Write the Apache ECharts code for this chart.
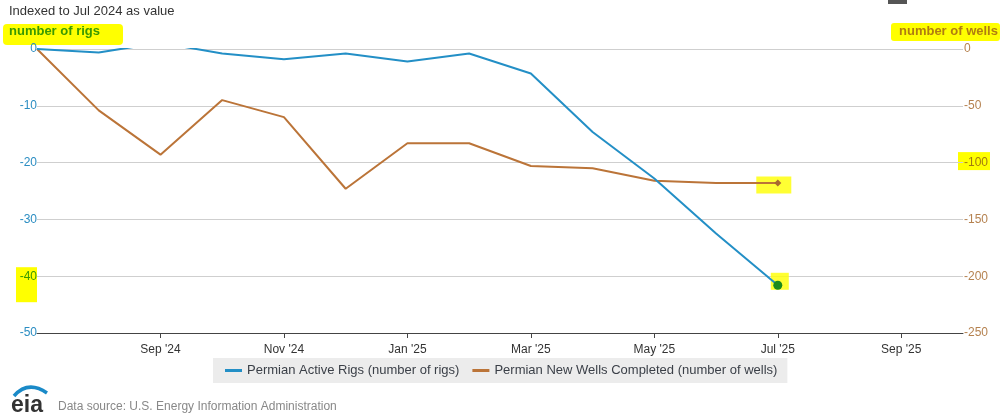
<!DOCTYPE html>
<html>
<head>
<meta charset="utf-8">
<script src="https://cdn.jsdelivr.net/npm/echarts@6/dist/echarts.min.js"></script>
<style>
html,body{margin:0;padding:0;background:#fff;}
#chart{width:1006px;height:420px;}
</style>
</head>
<body>
<div id="chart"></div>
<script>
// ---- data ----
var months = ["Jul '24","Aug '24","Sep '24","Oct '24","Nov '24","Dec '24","Jan '25","Feb '25","Mar '25","Apr '25","May '25","Jun '25","Jul '25","Aug '25","Sep '25","Oct '25"];
var rigs  = [0, -0.6, 1.1, -0.8, -1.8, -0.8, -2.2, -0.8, -4.3, -14.6, -22.8, -32.5, -41.6];
var wells = [0, -54, -93, -45, -60, -123, -83, -83, -103, -105, -116, -118, -118];
var rigTicks  = [0, -10, -20, -30, -40, -50];
var wellTicks = [0, -50, -100, -150, -200, -250];
var rigsName  = 'Permian Active Rigs (number of rigs)';
var wellsName = 'Permian New Wells Completed (number of wells)';

var BLUE = '#238fc6', BROWN = '#bb7438';
var FONT = '"Liberation Sans", Arial, sans-serif';

var chart = echarts.init(document.getElementById('chart'));
var lastIdx = rigs.length - 1;

function showEven(i){ return i % 2 === 0 && i > 0; }

var option = {
  backgroundColor: '#fff',
  animation: false,
  textStyle: { fontFamily: FONT },
  grid: { left: 37, right: 43, top: 49, bottom: 87, containLabel: false },
  legend: {
    data: [rigsName, wellsName],
    left: 213, top: 358,
    backgroundColor: '#ececec',
    padding: [6, 10, 6, 12],
    itemGap: 13,
    itemWidth: 17, itemHeight: 3,
    icon: 'rect',
    textStyle: { color: '#3a3f47', fontSize: 13, fontFamily: FONT }
  },
  xAxis: {
    type: 'category',
    data: months,
    boundaryGap: false,
    axisLine: { onZero: false, lineStyle: { color: '#444', width: 1 } },
    axisTick: { show: true, length: 5, interval: function(i){ return showEven(i); }, lineStyle: { color: '#444' } },
    axisLabel: { interval: function(i){ return showEven(i); }, color: '#333', fontSize: 12, margin: 11, fontFamily: FONT },
    splitLine: { show: false }
  },
  yAxis: [
    {
      type: 'value', min: rigTicks[rigTicks.length-1], max: rigTicks[0], interval: 10,
      position: 'left',
      axisLine: { show: false }, axisTick: { show: false },
      splitLine: { lineStyle: { color: '#cfcfcf', width: 1 } },
      axisLabel: {
        margin: 0, fontSize: 12, color: '#2b8dc2', fontFamily: FONT,
        formatter: function(v){ return v === -40 ? '{hl|' + v + '}' : String(v); },
        rich: { hl: { color: '#3a9a00', fontSize: 12, fontFamily: FONT } }
      }
    },
    {
      type: 'value', min: wellTicks[wellTicks.length-1], max: wellTicks[0], interval: 50,
      position: 'right',
      axisLine: { show: false }, axisTick: { show: false },
      splitLine: { show: false },
      axisLabel: {
        margin: 1, fontSize: 12, color: '#b58250', fontFamily: FONT,
        formatter: function(v){ return v === -100 ? '{hl|' + v + '}' : String(v); },
        rich: { hl: { color: '#a07a10', fontSize: 12, fontFamily: FONT } }
      }
    }
  ],
  series: [
    {
      name: 'hlRig', type: 'scatter', yAxisIndex: 0, silent: true, z: 1,
      symbol: 'rect', symbolSize: [18, 17], symbolOffset: [2, -4],
      itemStyle: { color: '#ffff00' },
      data: [[months[lastIdx], rigs[lastIdx]]]
    },
    {
      name: 'hlWell', type: 'scatter', yAxisIndex: 1, silent: true, z: 1,
      symbol: 'rect', symbolSize: [35, 17], symbolOffset: [-4, 2],
      itemStyle: { color: '#ffff00' },
      data: [[months[lastIdx], wells[lastIdx]]]
    },
    {
      name: rigsName, type: 'line', yAxisIndex: 0, clip: true, z: 3,
      showSymbol: true, symbol: 'none',
      lineStyle: { color: BLUE, width: 2 }, itemStyle: { color: BLUE },
      data: rigs.map(function(v, i){
        return i === lastIdx ? { value: v, symbol: 'circle', symbolSize: 9, itemStyle: { color: '#1c8a1c' } } : v;
      })
    },
    {
      name: wellsName, type: 'line', yAxisIndex: 1, clip: true, z: 2,
      showSymbol: true, symbol: 'none',
      lineStyle: { color: BROWN, width: 2 }, itemStyle: { color: BROWN },
      data: wells.map(function(v, i){
        return i === lastIdx ? { value: v, symbol: 'diamond', symbolSize: 7, itemStyle: { color: '#a8692f' } } : v;
      })
    }
  ]
};
chart.setOption(option);

// annotations (highlighter marks) positioned from the axes
var y40 = chart.convertToPixel({ yAxisIndex: 0 }, -40);
var y100 = chart.convertToPixel({ yAxisIndex: 1 }, -100);

chart.setOption({
  graphic: [
    { type: 'rect', z: -10, silent: true, shape: { x: 16, y: y40 - 9, width: 21, height: 35 }, style: { fill: '#ffff00' } },
    { type: 'rect', z: -10, silent: true, shape: { x: 958, y: y100 - 10.5, width: 32, height: 18 }, style: { fill: '#ffff00' } },
    { type: 'text', x: 9, y: 11, style: { text: 'Indexed to Jul 2024 as value', fill: '#333', font: '13px ' + FONT, verticalAlign: 'middle' } },
    { type: 'rect', silent: true, shape: { x: 3, y: 24, width: 120, height: 21, r: 4 }, style: { fill: '#ffff00' } },
    { type: 'text', x: 9, y: 31, style: { text: 'number of rigs', fill: '#3a9a00', font: 'bold 13px ' + FONT, verticalAlign: 'middle' } },
    { type: 'rect', silent: true, shape: { x: 891, y: 23, width: 109, height: 18, r: 3 }, style: { fill: '#ffff00' } },
    { type: 'text', x: 899, y: 31, style: { text: 'number of wells', fill: '#b07d10', font: 'bold 13px ' + FONT, verticalAlign: 'middle' } },
    { type: 'rect', silent: true, shape: { x: 888, y: 0, width: 19, height: 4 }, style: { fill: '#555' } },
    { type: 'bezierCurve', silent: true, shape: { x1: 14, y1: 396, cpx1: 28, cpy1: 380, x2: 47, y2: 393 }, style: { fill: null, stroke: '#1a8ac8', lineWidth: 3.5 } },
    { type: 'text', x: 11, y: 406, style: { text: 'eia', fill: '#333', font: 'bold 23px ' + FONT, verticalAlign: 'middle' } },
    { type: 'text', x: 58, y: 407, style: { text: 'Data source: U.S. Energy Information Administration', fill: '#888', font: '12px ' + FONT, verticalAlign: 'middle' } }
  ]
});
</script>
</body>
</html>
